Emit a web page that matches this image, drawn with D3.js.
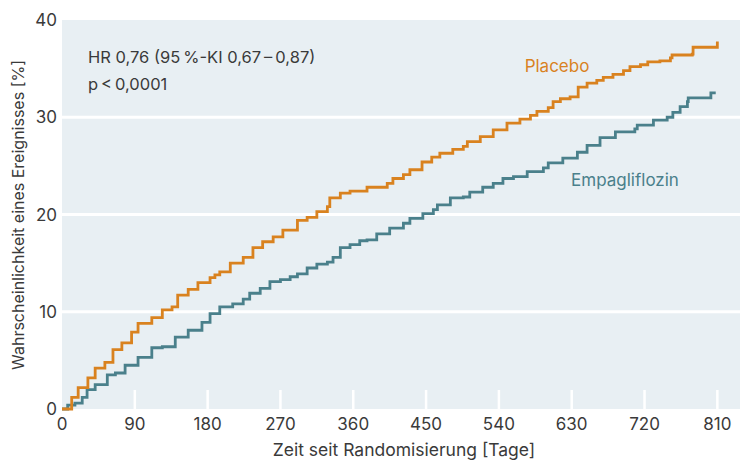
<!DOCTYPE html>
<html>
<head>
<meta charset="utf-8">
<script src="https://cdn.jsdelivr.net/npm/d3@7"></script>
<style>
  body { margin: 0; background: #fff; }
  svg text { font-family: Inter, "Noto Sans", sans-serif; fill: #3a3a3a; }
</style>
</head>
<body>
<svg id="chart" width="740" height="461"></svg>
<script>
// Kaplan-Meier data: [Tag, %]
const placebo = [
  [0, 0], [12, 1.2], [20, 2.2], [32, 3.2], [41, 4.2], [53, 4.8], [63, 6.1], [74, 6.8],
  [86, 7.9], [94, 8.8], [111, 9.4], [124, 10.2], [136, 10.5], [143, 11.7], [156, 12.3],
  [168, 13.0], [183, 13.5], [189, 13.8], [195, 14.1], [208, 15.0], [224, 15.6], [236, 16.6],
  [248, 17.2], [261, 17.7], [273, 18.4], [291, 19.4], [303, 19.7], [315, 20.3], [328, 20.8],
  [331, 21.7], [344, 22.2], [356, 22.4], [377, 22.8], [402, 23.2], [409, 23.7], [422, 24.1],
  [430, 24.6], [445, 25.4], [457, 25.9], [467, 26.3], [483, 26.7], [496, 27.0], [501, 27.5],
  [517, 28.0], [533, 28.7], [550, 29.4], [566, 29.8], [579, 30.2], [587, 30.6], [601, 31.0],
  [607, 31.6], [616, 31.9], [628, 32.1], [638, 33.1], [649, 33.5], [661, 33.8], [669, 34.1],
  [681, 34.4], [694, 34.8], [702, 35.2], [715, 35.4], [724, 35.7], [739, 35.8], [752, 36.1],
  [754, 36.4], [779, 36.5], [780, 37.2], [808, 37.2], [810, 37.8]
];
const empa = [
  [0, 0], [7, 0.4], [16, 0.6], [25, 1.2], [31, 2.0], [41, 2.5], [56, 3.5], [66, 3.7],
  [78, 4.5], [94, 5.3], [111, 6.3], [124, 6.4], [140, 7.4], [156, 8.1], [173, 8.9],
  [183, 9.8], [195, 10.5], [211, 10.8], [224, 11.3], [232, 11.9], [245, 12.4], [257, 13.1],
  [270, 13.3], [282, 13.6], [291, 13.9], [303, 14.5], [315, 14.9], [328, 15.1], [335, 15.6],
  [344, 16.6], [356, 16.9], [368, 17.3], [377, 17.4], [389, 18.0], [405, 18.6], [422, 19.1],
  [430, 19.6], [446, 20.1], [459, 20.5], [464, 21.0], [480, 21.7], [496, 21.8], [504, 22.3],
  [520, 22.8], [533, 23.2], [545, 23.7], [558, 23.9], [575, 24.4], [595, 24.8], [601, 25.3],
  [619, 25.8], [637, 26.4], [649, 27.1], [665, 27.9], [684, 28.5], [708, 28.8], [711, 29.2],
  [731, 29.7], [748, 30.0], [755, 30.5], [764, 31.1], [773, 31.6], [774, 32.0], [802, 32.5],
  [808, 32.5]
];
const xTicks = [0, 90, 180, 270, 360, 450, 540, 630, 720, 810];
const yTicks = [0, 10, 20, 30, 40];

const colors = {
  bg: "#e8eff3",
  placebo: "#d9821f",
  empa: "#4a808b",
  text: "#3a3a3a"
};

const svg = d3.select("#chart");
const margin = { left: 62, top: 20, right: 0, bottom: 52 };
const width = 740, height = 461;

const x = d3.scaleLinear().domain([0, 838]).range([margin.left, width - margin.right]);
const y = d3.scaleLinear().domain([0, 40]).range([height - margin.bottom, margin.top]);

// plot background
svg.append("rect")
  .attr("x", x(0)).attr("y", y(40))
  .attr("width", x(838) - x(0)).attr("height", y(0) - y(40))
  .attr("fill", colors.bg);

// horizontal grid lines
svg.append("g").selectAll("line")
  .data(yTicks.filter(d => d > 0 && d < 40))
  .enter().append("line")
  .attr("x1", x(0)).attr("x2", x(838))
  .attr("y1", d => y(d)).attr("y2", d => y(d))
  .attr("stroke", "#fff").attr("stroke-width", 3);

// white x ticks inside the plot
svg.append("g").selectAll("line")
  .data(xTicks.filter(d => d > 0))
  .enter().append("line")
  .attr("x1", d => x(d)).attr("x2", d => x(d))
  .attr("y1", y(0)).attr("y2", y(0) - 19)
  .attr("stroke", "#fff").attr("stroke-width", 2.5);

// y tick labels
svg.append("g").selectAll("text")
  .data(yTicks)
  .enter().append("text")
  .attr("x", x(0) - 5)
  .attr("y", d => y(d))
  .attr("dy", "0.36em")
  .attr("text-anchor", "end")
  .style("font-size", "17px")
  .text(d => d);

// x tick labels
svg.append("g").selectAll("text")
  .data(xTicks)
  .enter().append("text")
  .attr("x", d => x(d))
  .attr("y", y(0) + 21)
  .attr("text-anchor", "middle")
  .style("font-size", "17px")
  .text(d => d);

// axis titles
svg.append("text")
  .attr("x", 404).attr("y", 456)
  .attr("text-anchor", "middle")
  .style("font-size", "17.5px")
  .text("Zeit seit Randomisierung [Tage]");

svg.append("text")
  .attr("transform", "translate(24,215) rotate(-90)")
  .attr("text-anchor", "middle")
  .style("font-size", "16px")
  .text("Wahrscheinlichkeit eines Ereignisses [%]");

// curves
const line = d3.line()
  .x(d => x(d[0]))
  .y(d => y(d[1]))
  .curve(d3.curveStepAfter);

svg.append("path").datum(empa)
  .attr("d", line).attr("fill", "none")
  .attr("stroke", colors.empa).attr("stroke-width", 2.8);

svg.append("path").datum(placebo)
  .attr("d", line).attr("fill", "none")
  .attr("stroke", colors.placebo).attr("stroke-width", 2.8);

// series labels
svg.append("text")
  .attr("x", 557).attr("y", 72)
  .attr("text-anchor", "middle")
  .style("font-size", "17px")
  .style("fill", colors.placebo)
  .text("Placebo");

svg.append("text")
  .attr("x", 625).attr("y", 186)
  .attr("text-anchor", "middle")
  .style("font-size", "17px")
  .style("fill", colors.empa)
  .text("Empagliflozin");

// statistics
svg.append("text")
  .attr("x", 88).attr("y", 63)
  .style("font-size", "16.5px")
  .text("HR 0,76 (95\u2009%-KI 0,67\u2009\u2013\u20090,87)");

svg.append("text")
  .attr("x", 88).attr("y", 90)
  .style("font-size", "16.5px")
  .text("p\u2009<\u20090,0001");
</script>
</body>
</html>
